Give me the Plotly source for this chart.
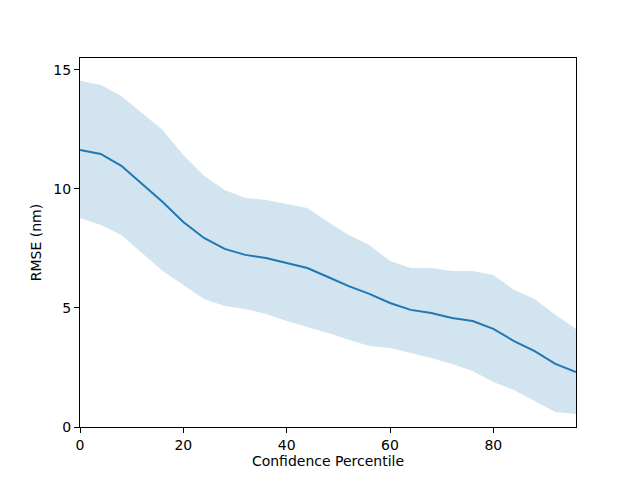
import plotly.graph_objects as go

percentile = [0, 4, 8, 12, 16, 20, 24, 28, 32, 36, 40, 44, 48, 52, 56, 60, 64, 68, 72, 76, 80, 84, 88, 92, 96]
rmse_mean = [11.64, 11.47, 10.97, 10.2, 9.45, 8.61, 7.94, 7.48, 7.23, 7.1, 6.89, 6.68, 6.3, 5.92, 5.59,
             5.21, 4.92, 4.79, 4.58, 4.45, 4.12, 3.61, 3.19, 2.65, 2.31]
rmse_upper = [14.54, 14.37, 13.9, 13.19, 12.48, 11.43, 10.55, 9.96, 9.62, 9.54, 9.37, 9.2, 8.61, 8.07, 7.65,
              6.97, 6.68, 6.68, 6.55, 6.55, 6.39, 5.76, 5.38, 4.71, 4.12]
rmse_lower = [8.78, 8.49, 8.07, 7.31, 6.55, 5.97, 5.38, 5.08, 4.96, 4.75, 4.45, 4.2, 3.95, 3.66, 3.4,
              3.32, 3.11, 2.9, 2.65, 2.35, 1.89, 1.55, 1.09, 0.63, 0.55]

x_ticks = [0, 20, 40, 60, 80]
y_ticks = [0, 5, 10, 15]

fig = go.Figure()
fig.add_trace(go.Scatter(x=percentile, y=rmse_upper, mode="lines", line=dict(width=0),
                         showlegend=False, hoverinfo="skip"))
fig.add_trace(go.Scatter(x=percentile, y=rmse_lower, mode="lines", line=dict(width=0),
                         fill="tonexty", fillcolor="rgba(31,119,180,0.2)",
                         showlegend=False, hoverinfo="skip"))
fig.add_trace(go.Scatter(x=percentile, y=rmse_mean, mode="lines",
                         line=dict(color="#1f77b4", width=2), showlegend=False))

axis_common = dict(showgrid=False, zeroline=False, showline=True, linecolor="black", linewidth=1,
                   mirror=True, ticks="outside", ticklen=5, tickwidth=1, tickcolor="black",
                   tickfont=dict(family="DejaVu Sans", size=14, color="black"))

fig.update_layout(
    width=640, height=480,
    margin=dict(l=72, r=72, t=50, b=61),
    paper_bgcolor="white", plot_bgcolor="white",
    font=dict(family="DejaVu Sans", size=14, color="black"),
    xaxis=dict(range=[0, 96], tickvals=x_ticks,
               title=dict(text="Confidence Percentile", font=dict(size=14), standoff=4), **axis_common),
    yaxis=dict(range=[0, 15.5], tickvals=y_ticks,
               title=dict(text="RMSE (nm)", font=dict(size=14), standoff=8), **axis_common),
)

fig.write_html("out.html")
